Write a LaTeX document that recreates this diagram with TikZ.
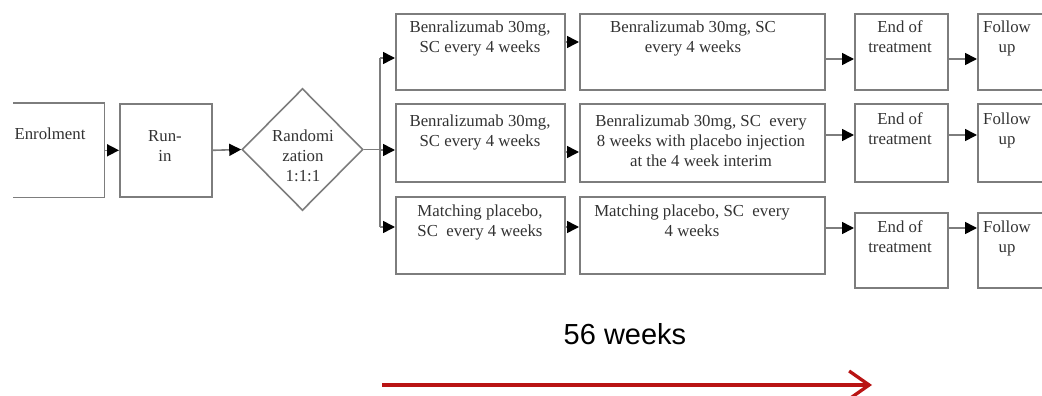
\documentclass[tikz,border=0pt]{standalone}
\usepackage{fontspec}
\setmainfont{Liberation Serif}
\newfontfamily\sansf{Liberation Sans}
\usetikzlibrary{arrows.meta,shapes.geometric}
\definecolor{linegray}{RGB}{125,125,125}
\definecolor{txtgray}{RGB}{50,50,50}
\definecolor{arrowred}{RGB}{185,20,20}
\begin{document}
\begin{tikzpicture}[x=1pt,y=-1pt,
  box/.style={draw=linegray, line width=1.6pt, rectangle, inner sep=0pt, anchor=north west},
  boxline/.style={draw=linegray, line width=1.6pt},
  txt/.style={font=\fontsize{16.8}{20}\selectfont, text=txtgray, align=center, anchor=north, inner sep=0pt},
  conn/.style={draw=linegray, line width=1.6pt, -{Triangle[length=12pt,width=12pt,black]}},
  plain/.style={draw=linegray, line width=1.6pt}
]
\useasboundingbox (0,0) rectangle (1042,396);
\clip (0,0) rectangle (1042,396);

% left part
\node[box, draw=none, minimum width=90pt, minimum height=93pt] (enrol) at (13,103) {};
\draw[boxline] (enrol.north west) -- (enrol.north east) -- (enrol.south east) -- (enrol.south west);
\node[box, minimum width=92pt, minimum height=93pt] (runin) at (119,103) {};
\node[diamond, draw=linegray, line width=1.6pt, inner sep=0pt, minimum width=121pt, minimum height=122pt] (rand) at (302.5,149.5) {};

\node[txt] (enrolt) at (50,127.7) {Enrolment};
\node[txt] (runint) at (165,130) {Run-\\in};
\node[txt] (randt) at (303,130) {Randomi\\zation\\1:1:1};

% column A
\node[box, minimum width=169pt, minimum height=76pt] (a1) at (395,13) {};
\node[box, minimum width=169pt, minimum height=78pt] (a2) at (395,103) {};
\node[box, minimum width=169pt, minimum height=77pt] (a3) at (395,196) {};
\node[txt] (a1t) at (480,20.7) {Benralizumab 30mg,\\SC every 4 weeks};
\node[txt] (a2t) at (480,114.5) {Benralizumab 30mg,\\SC every 4 weeks};
\node[txt] (a3t) at (480,204.7) {Matching placebo,\\SC\ \ every 4 weeks};

% column B
\node[box, minimum width=245pt, minimum height=76pt] (b1) at (579,13) {};
\node[box, minimum width=245pt, minimum height=78pt] (b2) at (579,103) {};
\node[box, minimum width=245pt, minimum height=77pt] (b3) at (579,196) {};
\node[txt] (b1t) at (693,20.7) {Benralizumab 30mg, SC\\every 4 weeks};
\node[txt] (b2t) at (701,114.5) {Benralizumab 30mg, SC\ \ every\\8 weeks with placebo injection\\at the 4 week interim};
\node[txt] (b3t) at (692,204.7) {Matching placebo, SC\ \ every\\4 weeks};

% End of treatment
\node[box, minimum width=93pt, minimum height=76pt] (e1) at (854,13) {};
\node[box, minimum width=93pt, minimum height=78pt] (e2) at (854,103) {};
\node[box, minimum width=93pt, minimum height=75pt] (e3) at (854,212) {};
\node[txt] (e1t) at (900,20.7) {End of\\treatment};
\node[txt] (e2t) at (900,112.7) {End of\\treatment};
\node[txt] (e3t) at (900,220.7) {End of\\treatment};

% Follow up
\node[box, minimum width=100pt, minimum height=76pt] (f1) at (977,13) {};
\node[box, minimum width=100pt, minimum height=78pt] (f2) at (977,103) {};
\node[box, minimum width=100pt, minimum height=75pt] (f3) at (977,212) {};
\node[txt] (f1t) at (1007,20.7) {Follow\\up};
\node[txt] (f2t) at (1007,112.7) {Follow\\up};
\node[txt] (f3t) at (1007,220.7) {Follow\\up};

% connector levels
\coordinate (bus1) at (380,58);
\coordinate (bus2) at (380,150);
\coordinate (bus3) at (380,227);
\coordinate (busm) at (380,149.5);
\coordinate (ab1) at (0,42);
\coordinate (ab2) at (0,152);
\coordinate (ab3) at (0,227);
\coordinate (be1) at (0,59);
\coordinate (be2) at (0,135);
\coordinate (be3) at (0,228);

\draw[conn] (enrol.east) -- (runin.west);
\draw[conn] (runin.east) -- (rand.west);
\draw[plain] (rand.east) -- (busm);
\draw[plain] (bus1) -- (bus3);
\draw[conn] (bus1) -- (bus1 -| a1.west);
\draw[conn] (bus2) -- (bus2 -| a2.west);
\draw[conn] (bus3) -- (bus3 -| a3.west);

\draw[conn] (ab1 -| a1.east) -- (ab1 -| b1.west);
\draw[conn] (ab2 -| a2.east) -- (ab2 -| b2.west);
\draw[conn] (ab3 -| a3.east) -- (ab3 -| b3.west);

\draw[conn] (be1 -| b1.east) -- (be1 -| e1.west);
\draw[conn] (be2 -| b2.east) -- (be2 -| e2.west);
\draw[conn] (be3 -| b3.east) -- (be3 -| e3.west);

\draw[conn] (be1 -| e1.east) -- (be1 -| f1.west);
\draw[conn] (be2 -| e2.east) -- (be2 -| f2.west);
\draw[conn] (be3 -| e3.east) -- (be3 -| f3.west);

% timeline
\node[font=\sansf\fontsize{29}{34}\selectfont, anchor=base, inner sep=0pt, text=black] (dur) at (625,344) {56 weeks};
\coordinate (ts) at (382,385);
\coordinate (te) at (872,385);
\draw[arrowred, line width=3.3pt, -{Straight Barb[length=20pt,width=28pt]}] (ts) -- (te);
\end{tikzpicture}
\end{document}
